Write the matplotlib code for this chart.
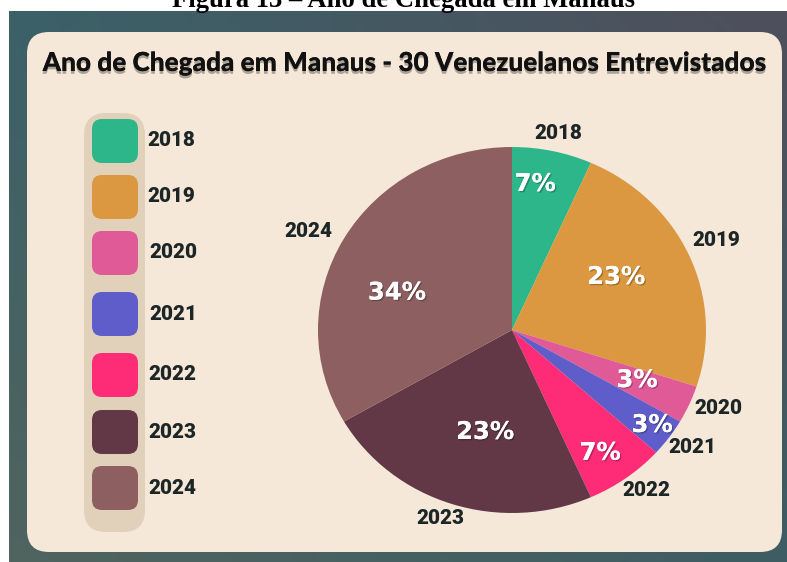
import numpy as np
import matplotlib
matplotlib.use("Agg")
import matplotlib.pyplot as plt
from matplotlib.patches import FancyBboxPatch
import matplotlib.patheffects as pe
from matplotlib.colors import to_rgb

# ---------------- data ----------------
years = ["2018", "2019", "2020", "2021", "2022", "2023", "2024"]
counts = [2, 7, 1, 1, 2, 7, 10]            # 30 respondents
pct_labels = [7, 23, 3, 3, 7, 23, 34]        # percentages as printed
colors = ["#2db68a", "#db9840", "#e15a98", "#5f5dc9", "#fe2c76", "#623846", "#8d5f60"]
title = "Ano de Chegada em Manaus - 30 Venezuelanos Entrevistados"
caption = "Figura 13 – Ano de Chegada em Manaus"

# ---------------- layout / style ----------------
W, H = 787, 562
TXT = "#1c2626"
CREAM = "#f5e8d8"
PILL = "#e1d1ba"
legend_y = [141, 197, 253, 314, 375, 432, 488]   # centres of legend swatches (px from top)
legend_lx = [147, 147, 149, 149, 148, 148, 148]
pct_r = [0.807, 0.61, 0.70, 0.889, 0.81, 0.574, 0.628]
pct_off = [-3.5, -4.4, -1.0, -0.3, 1.9, -4.0, -11.0]
lab_r = [1.10, 1.16, 1.146, 1.127, 1.12, 1.097, 1.18]
lab_off = [0.4, -1.0, -2.0, -1.4, -2.3, 1.8, -3.0]

fig = plt.figure(figsize=(W / 100, H / 100), dpi=100, facecolor="white")

# background axes in pixel coordinates (y downwards)
bg = fig.add_axes([0, 0, 1, 1])
bg.set_xlim(0, W)
bg.set_ylim(H, 0)
bg.axis("off")

# dark gradient backdrop
tl, tr = np.array(to_rgb("#3b6168")), np.array(to_rgb("#4f4f5c"))
bl, br = np.array(to_rgb("#50645f")), np.array(to_rgb("#3d5d64"))
u = np.linspace(0, 1, 200)[None, :, None]
v = np.linspace(0, 1, 150)[:, None, None]
grad = (1 - v) * ((1 - u) * tl + u * tr) + v * ((1 - u) * bl + u * br)
bg.imshow(grad, extent=[9, W, H, 11], aspect="auto", zorder=0, interpolation="bilinear")

# cream panel
bg.add_patch(FancyBboxPatch((27, 32), 782 - 27, 552 - 32,
                            boxstyle="round,pad=0,rounding_size=22",
                            fc=CREAM, ec="none", zorder=1))
# legend pill
bg.add_patch(FancyBboxPatch((84, 113), 145 - 84, 532 - 113,
                            boxstyle="round,pad=0,rounding_size=22",
                            fc=PILL, ec="none", zorder=2))

renderer = fig.canvas.get_renderer()


def fit_width(t, target):
    w = t.get_window_extent(renderer).width
    t.set_fontsize(t.get_fontsize() * target / w)


# caption (mostly cut off at the top, as in the source image)
cap = bg.text(404, 7, caption, ha="center", va="baseline", fontsize=20,
              family=["Liberation Serif", "DejaVu Serif"], fontweight="bold",
              color="black", zorder=0.5, clip_on=False)
fit_width(cap, 462)

# title
tt = bg.text(405, 63, title, ha="center", va="center", fontsize=17,
             family=["Lato", "DejaVu Sans"], fontweight="black", color="#111111", zorder=5,
             path_effects=[pe.withSimplePatchShadow(offset=(0, -2), shadow_rgbFace="black", alpha=0.3),
                           pe.Normal()])
fit_width(tt, 724)

# legend swatches and labels
for i, (yr, c) in enumerate(zip(years, colors)):
    yc = legend_y[i]
    bg.add_patch(FancyBboxPatch((92, yc - 22), 46, 44,
                                boxstyle="round,pad=0,rounding_size=10",
                                fc=c, ec="none", zorder=3))
    t = bg.text(legend_lx[i], yc, yr, ha="left", va="center", fontsize=14,
                family=["Roboto", "DejaVu Sans"], fontweight="black", color=TXT, zorder=4)
    fit_width(t, 48)

# ---------------- pie ----------------
cx, cy, rx, ry = 512, 330, 194, 183
xl, yl = 1.4, 1.25
ax = fig.add_axes([(cx - xl * rx) / W, (H - cy - yl * ry) / H, 2 * xl * rx / W, 2 * yl * ry / H])
wedges, _ = ax.pie(counts, colors=colors, startangle=90, counterclock=False,
                   radius=1, wedgeprops=dict(linewidth=0))
ax.set_aspect("auto")
ax.set_xlim(-xl, xl)
ax.set_ylim(-yl, yl)
ax.axis("off")
ax.patch.set_alpha(0)

for i, w in enumerate(wedges):
    mid = (w.theta1 + w.theta2) / 2.0
    a = np.deg2rad(mid - pct_off[i])
    ax.text(pct_r[i] * np.cos(a), pct_r[i] * np.sin(a), f"{pct_labels[i]}%",
            ha="center", va="center", fontsize=17.5, fontweight="bold",
            family=["DejaVu Sans"], color="white",
            path_effects=[pe.withSimplePatchShadow(offset=(1, -1), shadow_rgbFace="black", alpha=0.25),
                          pe.Normal()])
    b = np.deg2rad(mid - lab_off[i])
    t = ax.text(lab_r[i] * np.cos(b), lab_r[i] * np.sin(b), years[i],
                ha="center", va="center", fontsize=14, fontweight="black",
                family=["Roboto", "DejaVu Sans"], color=TXT, clip_on=False)
    fit_width(t, 48)

fig.savefig("out.png", dpi=100, facecolor="white")
